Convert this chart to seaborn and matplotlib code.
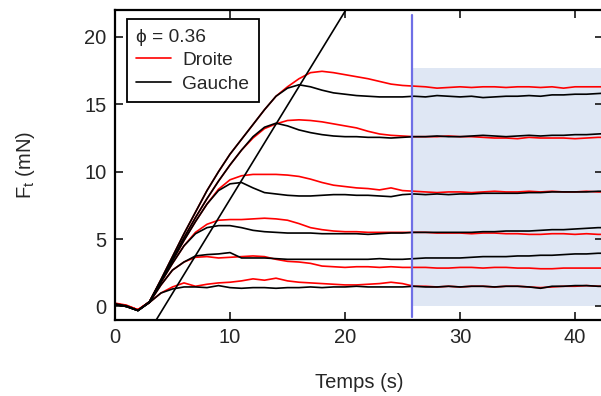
import numpy as np
import pandas as pd
import matplotlib
matplotlib.use("Agg")
import matplotlib.pyplot as plt
import seaborn as sns
from matplotlib.lines import Line2D

# time grid (s)
temps = list(range(0, 44))

# Ft (mN), right side (red) and left side (black), one run per level
droite_1 = [0.25, 0.1, -0.25, 0.35, 2.0, 3.7, 5.4, 7.0, 8.6, 10.0, 11.3, 12.4, 13.5, 14.6, 15.6, 16.3, 16.9, 17.35, 17.45, 17.35,
            17.2, 17.05, 16.9, 16.7, 16.5, 16.4, 16.35, 16.3, 16.2, 16.25, 16.3, 16.25, 16.3, 16.3, 16.25, 16.3, 16.3, 16.25,
            16.3, 16.2, 16.3, 16.3, 16.3, 16.3]
gauche_1 = [0.2, 0.05, -0.3, 0.35, 2.0, 3.7, 5.4, 7.0, 8.6, 10.0, 11.3, 12.4, 13.5, 14.6, 15.6, 16.2, 16.45, 16.3, 16.05, 15.85,
            15.75, 15.65, 15.6, 15.55, 15.55, 15.55, 15.6, 15.55, 15.65, 15.6, 15.55, 15.6, 15.5, 15.55, 15.6, 15.6, 15.65, 15.6,
            15.7, 15.7, 15.75, 15.75, 15.8, 15.85]
droite_2 = [0.2, 0.05, -0.25, 0.35, 1.9, 3.5, 5.1, 6.6, 8.0, 9.3, 10.5, 11.6, 12.5, 13.2, 13.55, 13.8, 13.85, 13.8, 13.7, 13.55,
            13.4, 13.25, 13.0, 12.8, 12.7, 12.65, 12.6, 12.6, 12.6, 12.65, 12.6, 12.6, 12.55, 12.5, 12.5, 12.45, 12.55, 12.5,
            12.5, 12.5, 12.45, 12.5, 12.55, 12.55]
gauche_2 = [0.15, 0.0, -0.3, 0.35, 1.9, 3.5, 5.1, 6.6, 8.0, 9.3, 10.5, 11.6, 12.6, 13.3, 13.6, 13.4, 13.1, 12.9, 12.75, 12.65,
            12.6, 12.6, 12.55, 12.55, 12.5, 12.55, 12.6, 12.6, 12.65, 12.6, 12.6, 12.65, 12.7, 12.65, 12.6, 12.65, 12.7, 12.65,
            12.7, 12.7, 12.75, 12.75, 12.8, 12.85]
droite_3 = [0.2, 0.05, -0.25, 0.35, 1.9, 3.4, 4.9, 6.3, 7.6, 8.7, 9.4, 9.7, 9.8, 9.8, 9.8, 9.75, 9.65, 9.45, 9.2, 9.0,
            8.9, 8.8, 8.75, 8.65, 8.8, 8.6, 8.55, 8.5, 8.45, 8.5, 8.5, 8.45, 8.5, 8.55, 8.5, 8.5, 8.55, 8.5,
            8.55, 8.5, 8.5, 8.55, 8.5, 8.5]
gauche_3 = [0.15, 0.0, -0.3, 0.35, 1.9, 3.4, 4.9, 6.3, 7.6, 8.6, 9.1, 9.2, 8.8, 8.45, 8.35, 8.25, 8.2, 8.2, 8.25, 8.3,
            8.3, 8.25, 8.25, 8.2, 8.15, 8.3, 8.35, 8.3, 8.35, 8.3, 8.35, 8.35, 8.4, 8.4, 8.4, 8.4, 8.45, 8.45,
            8.5, 8.5, 8.5, 8.5, 8.55, 8.55]
droite_4 = [0.2, 0.05, -0.25, 0.3, 1.8, 3.2, 4.5, 5.5, 6.1, 6.4, 6.45, 6.45, 6.5, 6.55, 6.5, 6.4, 6.15, 5.85, 5.7, 5.6,
            5.55, 5.55, 5.5, 5.5, 5.5, 5.5, 5.5, 5.5, 5.45, 5.45, 5.45, 5.4, 5.45, 5.45, 5.4, 5.4, 5.35, 5.35,
            5.4, 5.4, 5.35, 5.4, 5.35, 5.35]
gauche_4 = [0.15, 0.0, -0.3, 0.3, 1.8, 3.2, 4.5, 5.4, 5.85, 6.0, 6.0, 5.85, 5.65, 5.55, 5.5, 5.45, 5.45, 5.45, 5.4, 5.4,
            5.4, 5.4, 5.35, 5.4, 5.45, 5.45, 5.5, 5.5, 5.5, 5.5, 5.5, 5.5, 5.55, 5.55, 5.6, 5.6, 5.6, 5.65,
            5.7, 5.7, 5.75, 5.8, 5.85, 5.85]
droite_5 = [0.2, 0.05, -0.25, 0.3, 1.6, 2.7, 3.3, 3.65, 3.7, 3.6, 3.65, 3.7, 3.75, 3.7, 3.5, 3.35, 3.3, 3.2, 3.0, 2.95,
            2.9, 2.95, 2.95, 2.9, 2.95, 2.9, 2.9, 2.9, 2.85, 2.85, 2.9, 2.9, 2.85, 2.9, 2.9, 2.85, 2.85, 2.8,
            2.8, 2.85, 2.85, 2.85, 2.85, 2.85]
gauche_5 = [0.15, 0.0, -0.3, 0.3, 1.6, 2.7, 3.3, 3.75, 3.85, 3.9, 4.0, 3.6, 3.6, 3.6, 3.55, 3.5, 3.5, 3.5, 3.5, 3.5,
            3.5, 3.5, 3.5, 3.55, 3.5, 3.5, 3.55, 3.6, 3.6, 3.6, 3.6, 3.65, 3.7, 3.7, 3.7, 3.75, 3.75, 3.8,
            3.8, 3.85, 3.9, 3.9, 3.95, 3.95]
droite_6 = [0.2, 0.05, -0.25, 0.3, 1.0, 1.45, 1.75, 1.5, 1.65, 1.75, 1.8, 1.9, 2.05, 1.95, 2.1, 1.9, 1.8, 1.75, 1.7, 1.65,
            1.6, 1.6, 1.65, 1.7, 1.8, 1.7, 1.5, 1.5, 1.45, 1.5, 1.45, 1.5, 1.5, 1.45, 1.5, 1.5, 1.45, 1.4,
            1.45, 1.5, 1.5, 1.55, 1.5, 1.5]
gauche_6 = [0.15, 0.0, -0.3, 0.3, 1.0, 1.3, 1.45, 1.45, 1.4, 1.55, 1.4, 1.35, 1.4, 1.4, 1.35, 1.4, 1.4, 1.45, 1.4, 1.45,
            1.45, 1.5, 1.45, 1.45, 1.45, 1.45, 1.5, 1.45, 1.45, 1.5, 1.45, 1.5, 1.5, 1.45, 1.5, 1.5, 1.45, 1.35,
            1.5, 1.5, 1.55, 1.55, 1.5, 1.5]

# linear fit of the loading ramp: F = pente * (t - t0)
pente = 1.395
t0 = 4.3
# instant marking start of the averaging window, and window height
t_marque = 25.8
f_fenetre = 17.7
phi = 0.36

droite = [droite_1, droite_2, droite_3, droite_4, droite_5, droite_6]
gauche = [gauche_1, gauche_2, gauche_3, gauche_4, gauche_5, gauche_6]
rows = []
for i, (d, g) in enumerate(zip(droite, gauche)):
    for t, fd, fg in zip(temps, d, g):
        rows.append((t, fd, "Droite", f"D{i}"))
        rows.append((t, fg, "Gauche", f"G{i}"))
df = pd.DataFrame(rows, columns=["temps", "force", "cote", "essai"])

sns.set_style("ticks")
plt.rcParams["font.family"] = ["Liberation Sans", "DejaVu Sans"]
plt.rcParams["mathtext.fontset"] = "custom"
plt.rcParams["mathtext.rm"] = "Liberation Sans"
plt.rcParams["mathtext.it"] = "Liberation Sans:italic"

fig = plt.figure(figsize=(6.01, 3.96), dpi=100)
ax = fig.add_axes([0.1913, 0.192, 0.812, 0.7828])

ax.fill_between([t_marque, 44], 0, f_fenetre, color="#dfe7f4", lw=0, zorder=0)

palette = {"Droite": "#ff0000", "Gauche": "#000000"}
sns.lineplot(data=df, x="temps", y="force", hue="cote", units="essai", estimator=None,
             palette=palette, linewidth=1.2, legend=False, ax=ax, zorder=2)

t_fit = np.array([t0 - 1.5 / pente, t0 + 23 / pente])
ax.plot(t_fit, pente * (t_fit - t0), color="black", lw=1.2, zorder=3)
ax.axvline(t_marque, ymin=0.01, ymax=0.985, color="#6f6fe6", lw=1.6, zorder=4)

ax.set_xlim(0, 42.43)
ax.set_ylim(-1, 22)
ax.set_xticks([0, 10, 20, 30, 40])
ax.set_yticks([0, 5, 10, 15, 20])
ax.tick_params(direction="in", length=6, width=1.3, labelsize=14.5, top=True, right=True, pad=6)
for s in ax.spines.values():
    s.set_linewidth(1.6)
    s.set_color("black")

ax.set_xlabel("Temps (s)", fontsize=14.5)
ax.set_ylabel("F$_\\mathrm{t}$ (mN)", fontsize=14.5)
ax.xaxis.set_label_coords(0.5, -0.17)
ax.yaxis.set_label_coords(-0.16, 0.5)

handles = [Line2D([], [], color="#ff0000", lw=1.2), Line2D([], [], color="black", lw=1.2)]
leg = ax.legend(handles, ["Droite", "Gauche"], title=f"\u03d5 = {phi}", loc="upper left",
                bbox_to_anchor=(0.024, 0.971), borderaxespad=0, fontsize=13.8, title_fontsize=13.8,
                frameon=True, fancybox=False, framealpha=1, edgecolor="black",
                handlelength=1.8, handletextpad=0.6, labelspacing=0.32, borderpad=0.5,
                alignment="left")
leg.get_frame().set_linewidth(1.3)
leg.set_zorder(5)

fig.savefig("out.png", dpi=100)
